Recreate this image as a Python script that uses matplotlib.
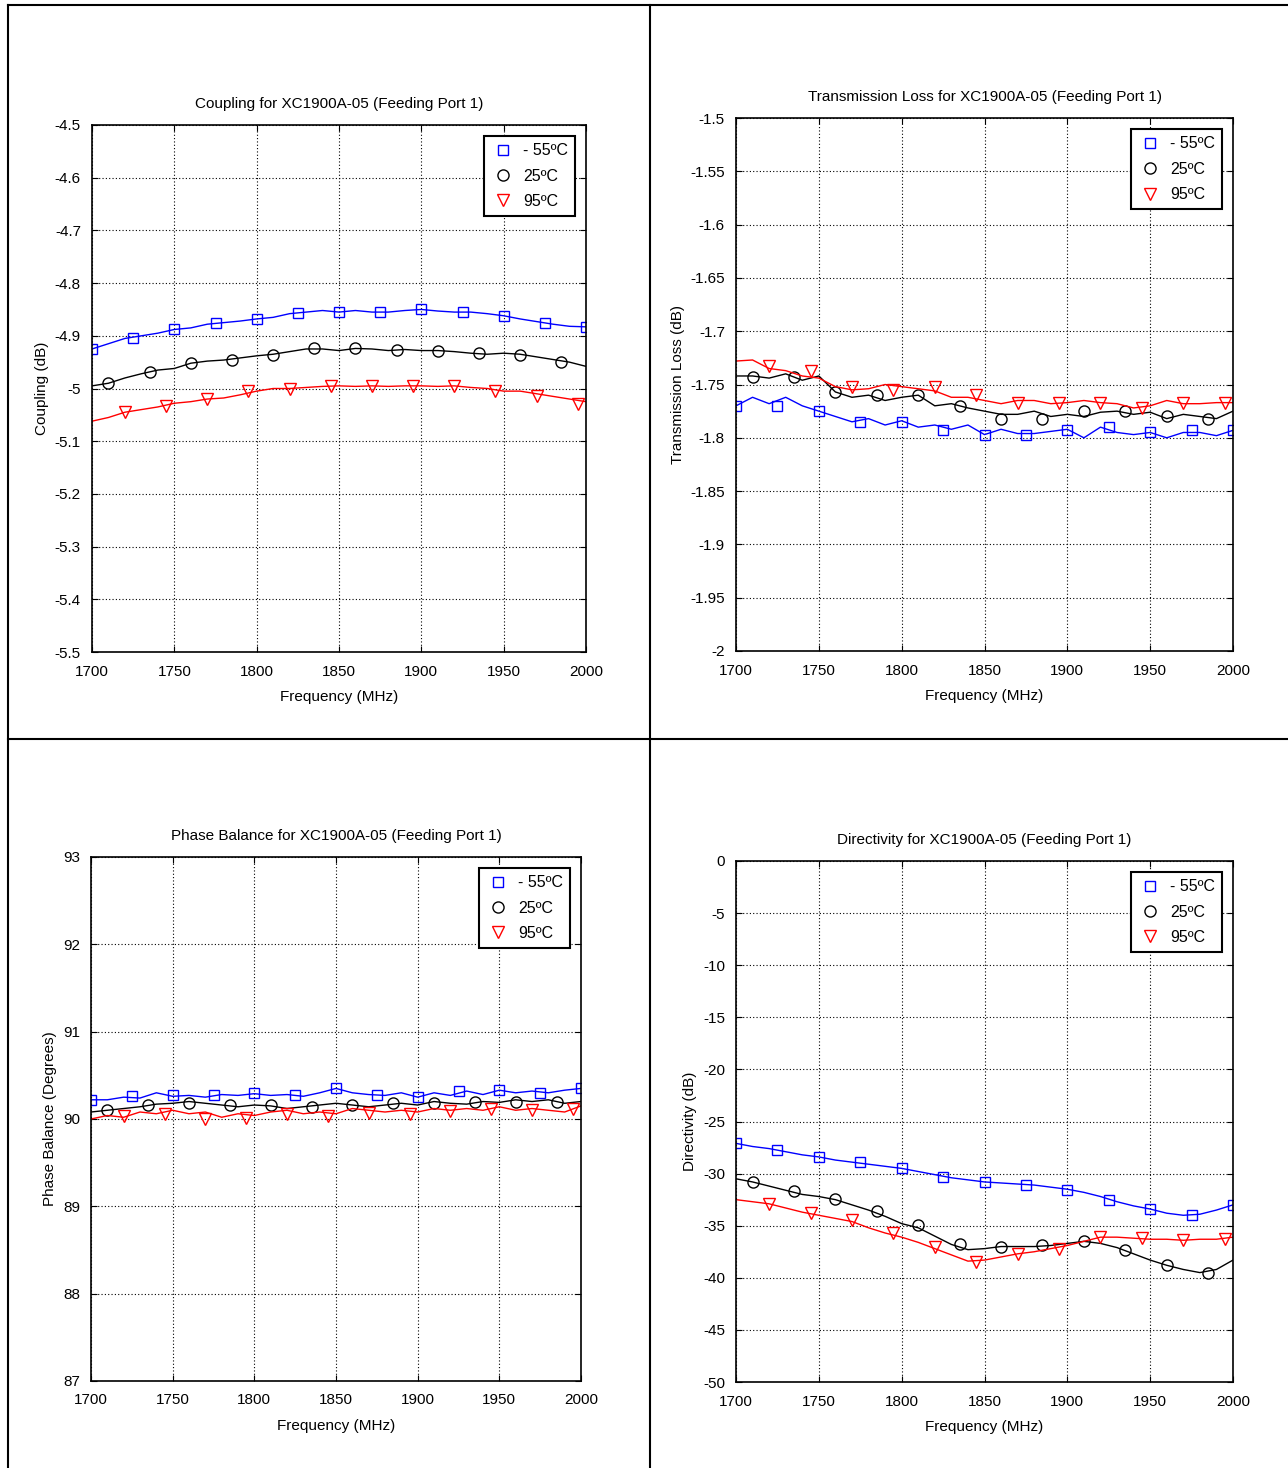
import numpy as np
import matplotlib
matplotlib.use("Agg")
import matplotlib.pyplot as plt
from matplotlib.lines import Line2D

freq = np.arange(1700, 2001, 10)
mk_blue_f = np.arange(1700, 2001, 25)
mk_black_f = np.arange(1710, 1986, 25)
mk_red_f = np.arange(1720, 1996, 25)

# Coupling
cp_blue = [-4.925,-4.915,-4.905,-4.90,-4.895,-4.888,-4.885,-4.878,-4.875,-4.872,-4.868,-4.865,-4.858,-4.855,-4.852,-4.855,-4.852,-4.855,-4.855,-4.852,-4.85,-4.853,-4.855,-4.855,-4.858,-4.862,-4.868,-4.873,-4.878,-4.882,-4.883]
cp_black = [-4.995,-4.99,-4.98,-4.972,-4.965,-4.962,-4.952,-4.948,-4.946,-4.942,-4.938,-4.935,-4.93,-4.925,-4.925,-4.928,-4.924,-4.925,-4.928,-4.926,-4.928,-4.928,-4.93,-4.933,-4.935,-4.933,-4.935,-4.94,-4.945,-4.95,-4.958]
cp_red = [-5.062,-5.055,-5.045,-5.04,-5.035,-5.028,-5.025,-5.02,-5.018,-5.012,-5.005,-5.0,-5.0,-4.998,-4.996,-4.995,-4.996,-4.995,-4.996,-4.995,-4.995,-4.996,-4.995,-4.998,-5.0,-5.005,-5.005,-5.01,-5.015,-5.02,-5.025]
cp_mk_blue = [-4.925,-4.905,-4.888,-4.875,-4.868,-4.857,-4.855,-4.855,-4.85,-4.855,-4.862,-4.875,-4.883]
cp_mk_black = [-4.99,-4.968,-4.952,-4.946,-4.937,-4.924,-4.924,-4.927,-4.929,-4.933,-4.937,-4.95]
cp_mk_red = [-5.045,-5.033,-5.02,-5.005,-5.0,-4.996,-4.995,-4.995,-4.995,-5.005,-5.015,-5.03]

# Transmission loss
tl_blue = [-1.770,-1.762,-1.768,-1.762,-1.770,-1.775,-1.780,-1.785,-1.782,-1.788,-1.784,-1.790,-1.788,-1.792,-1.788,-1.797,-1.792,-1.796,-1.796,-1.794,-1.792,-1.800,-1.790,-1.795,-1.797,-1.795,-1.800,-1.795,-1.795,-1.798,-1.793]
tl_black = [-1.742,-1.742,-1.744,-1.740,-1.746,-1.742,-1.757,-1.762,-1.760,-1.765,-1.762,-1.760,-1.770,-1.768,-1.772,-1.775,-1.778,-1.778,-1.775,-1.780,-1.778,-1.780,-1.776,-1.775,-1.778,-1.776,-1.782,-1.778,-1.780,-1.782,-1.775]
tl_red = [-1.728,-1.727,-1.735,-1.737,-1.742,-1.744,-1.752,-1.755,-1.754,-1.750,-1.752,-1.754,-1.756,-1.762,-1.762,-1.765,-1.768,-1.765,-1.765,-1.768,-1.767,-1.765,-1.767,-1.768,-1.772,-1.770,-1.765,-1.768,-1.768,-1.767,-1.767]
tl_mk_blue = [-1.770,-1.770,-1.775,-1.785,-1.785,-1.793,-1.797,-1.797,-1.793,-1.790,-1.795,-1.793,-1.793]
tl_mk_black = [-1.743,-1.743,-1.757,-1.760,-1.760,-1.770,-1.782,-1.782,-1.775,-1.775,-1.780,-1.782]
tl_mk_red = [-1.733,-1.737,-1.752,-1.755,-1.752,-1.760,-1.767,-1.767,-1.767,-1.772,-1.767,-1.767]

# Phase balance
pb_blue = [90.22,90.22,90.25,90.24,90.30,90.26,90.27,90.25,90.28,90.27,90.29,90.27,90.28,90.26,90.30,90.35,90.30,90.28,90.27,90.30,90.25,90.30,90.27,90.32,90.28,90.33,90.30,90.32,90.30,90.33,90.35]
pb_black = [90.08,90.10,90.12,90.14,90.17,90.18,90.20,90.18,90.16,90.14,90.16,90.15,90.12,90.14,90.16,90.18,90.16,90.14,90.16,90.18,90.16,90.20,90.18,90.17,90.20,90.19,90.22,90.20,90.22,90.18,90.20]
pb_red = [90.00,90.04,90.02,90.08,90.06,90.10,90.06,90.08,90.02,90.06,90.04,90.08,90.10,90.06,90.08,90.06,90.12,90.10,90.08,90.10,90.08,90.12,90.10,90.12,90.10,90.14,90.10,90.12,90.10,90.08,90.15]
pb_mk_blue = [90.22,90.26,90.27,90.28,90.30,90.27,90.35,90.28,90.25,90.32,90.33,90.30,90.35]
pb_mk_black = [90.10,90.16,90.18,90.16,90.16,90.14,90.16,90.18,90.18,90.20,90.20,90.20]
pb_mk_red = [90.03,90.06,90.00,90.01,90.06,90.04,90.07,90.06,90.09,90.11,90.10,90.11]

# Directivity
di_blue = [-27.1,-27.4,-27.6,-27.9,-28.2,-28.4,-28.7,-28.9,-29.1,-29.3,-29.5,-29.8,-30.1,-30.4,-30.6,-30.8,-30.9,-31.0,-31.1,-31.3,-31.5,-31.8,-32.2,-32.7,-33.1,-33.4,-33.8,-34.0,-33.9,-33.5,-33.0]
di_black = [-30.5,-30.8,-31.2,-31.6,-32.0,-32.2,-32.5,-33.0,-33.5,-34.1,-34.8,-35.2,-36.0,-36.8,-37.3,-37.2,-37.0,-37.0,-37.0,-36.9,-36.7,-36.5,-36.7,-37.1,-37.7,-38.3,-38.8,-39.2,-39.5,-39.2,-38.3]
di_red = [-32.5,-32.7,-32.9,-33.3,-33.7,-34.0,-34.3,-34.6,-35.2,-35.7,-36.1,-36.6,-37.2,-37.8,-38.4,-38.3,-38.0,-37.7,-37.5,-37.2,-36.9,-36.5,-36.1,-36.1,-36.2,-36.3,-36.3,-36.4,-36.3,-36.3,-36.1]
di_mk_blue = [-27.1,-27.7,-28.4,-28.9,-29.5,-30.3,-30.8,-31.1,-31.6,-32.5,-33.4,-34.0,-33.0]
di_mk_black = [-30.8,-31.7,-32.4,-33.6,-34.9,-36.8,-37.0,-36.9,-36.5,-37.3,-38.8,-39.5]
di_mk_red = [-32.9,-33.8,-34.5,-35.7,-37.0,-38.5,-37.7,-37.2,-36.1,-36.2,-36.4,-36.3]

legend_labels = ["- 55ºC", "25ºC", "95ºC"]
xticks = [1700,1750,1800,1850,1900,1950,2000]

W, H = 1288, 1468
fig = plt.figure(figsize=(W/100, H/100), dpi=100)
FONT = ["Liberation Sans", "DejaVu Sans"]

for (x0, y0, x1, y1) in [(8,5,8,1468),(650,5,650,1468),(8,5,1288,5),(8,739,1288,739)]:
    fig.add_artist(Line2D([x0/W, x1/W], [1-y0/H, 1-y1/H], color="black", lw=1.5))

def panel(rect, title, ylabel, ylim, yticks, ytl, lines, mks):
    x0, y0, x1, y1 = rect
    ax = fig.add_axes([x0/W, 1-y1/H, (x1-x0)/W, (y1-y0)/H])
    cols = ["#0000ff", "black", "#ff0000"]
    mstyles = ["s", "o", "v"]
    mfs = [mk_blue_f, mk_black_f, mk_red_f]
    for c, m, ln, mf, mv in zip(cols, mstyles, lines, mfs, mks):
        ax.plot(freq, ln, color=c, lw=1)
        ax.plot(mf, mv, ls="none", marker=m, mfc="none", mec=c, ms=8 if m != "s" else 7, mew=1)
    ax.set_xlim(1700, 2000)
    ax.set_ylim(*ylim)
    ax.set_xticks(xticks)
    ax.set_yticks(yticks)
    ax.set_yticklabels(ytl, fontfamily=FONT, fontsize=11)
    ax.set_xticklabels([str(t) for t in xticks], fontfamily=FONT, fontsize=11)
    ax.tick_params(axis="x", direction="in", length=4, top=True, pad=9)
    ax.tick_params(axis="y", direction="in", length=4, right=True, pad=8)
    ax.grid(True, color="black", ls=(0, (1, 2)), lw=0.8)
    for s in ax.spines.values():
        s.set_linewidth(1.2)
    ax.set_title(title, fontfamily=FONT, fontsize=11, pad=12)
    ax.set_xlabel("Frequency (MHz)", fontfamily=FONT, fontsize=11, labelpad=8)
    ax.set_ylabel(ylabel, fontfamily=FONT, fontsize=11)
    handles = [Line2D([], [], ls="none", marker=m, mfc="none", mec=c, ms=8 if m != "s" else 7) for c, m in zip(cols, mstyles)]
    leg = ax.legend(handles, legend_labels, loc="upper right", bbox_to_anchor=(0.985, 0.985),
                    prop={"family": FONT, "size": 11.5}, frameon=True, fancybox=False,
                    edgecolor="black", framealpha=1, handletextpad=0.5, handlelength=1.5,
                    labelspacing=0.65, borderpad=0.45, borderaxespad=0.2)
    leg.get_frame().set_linewidth(1.5)
    return ax

cp_ticks = [-4.5,-4.6,-4.7,-4.8,-4.9,-5.0,-5.1,-5.2,-5.3,-5.4,-5.5]
panel((92,125,586,652), "Coupling for XC1900A-05 (Feeding Port 1)", "Coupling (dB)", (-5.5,-4.5),
      cp_ticks, ["-4.5","-4.6","-4.7","-4.8","-4.9","-5","-5.1","-5.2","-5.3","-5.4","-5.5"],
      [cp_blue, cp_black, cp_red], [cp_mk_blue, cp_mk_black, cp_mk_red])
tl_ticks = [-1.5,-1.55,-1.6,-1.65,-1.7,-1.75,-1.8,-1.85,-1.9,-1.95,-2.0]
panel((736,118,1233,651), "Transmission Loss for XC1900A-05 (Feeding Port 1)", "Transmission Loss (dB)", (-2,-1.5),
      tl_ticks, ["-1.5","-1.55","-1.6","-1.65","-1.7","-1.75","-1.8","-1.85","-1.9","-1.95","-2"],
      [tl_blue, tl_black, tl_red], [tl_mk_blue, tl_mk_black, tl_mk_red])
pb_ticks = [87,88,89,90,91,92,93]
panel((91,857,581,1381), "Phase Balance for XC1900A-05 (Feeding Port 1)", "Phase Balance (Degrees)", (87,93),
      pb_ticks, [str(t) for t in pb_ticks],
      [pb_blue, pb_black, pb_red], [pb_mk_blue, pb_mk_black, pb_mk_red])
di_ticks = [0,-5,-10,-15,-20,-25,-30,-35,-40,-45,-50]
panel((736,861,1233,1382), "Directivity for XC1900A-05 (Feeding Port 1)", "Directivity (dB)", (-50,0),
      di_ticks, [str(t) for t in di_ticks],
      [di_blue, di_black, di_red], [di_mk_blue, di_mk_black, di_mk_red])

fig.savefig("out.png", dpi=100)
